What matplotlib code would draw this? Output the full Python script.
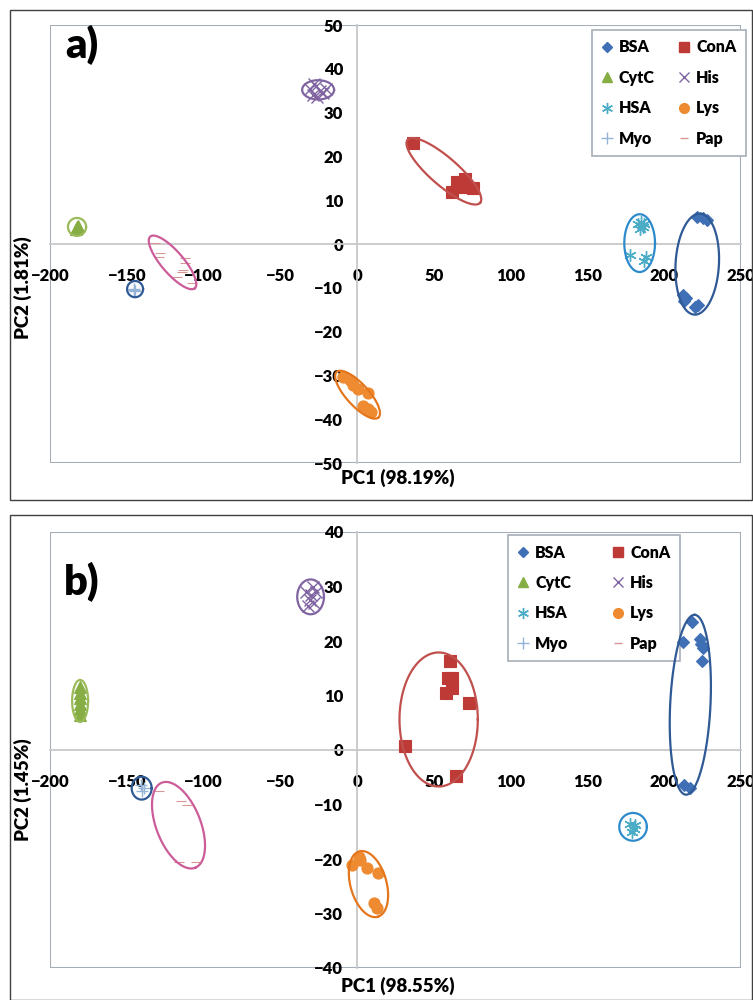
import numpy as np
import matplotlib
matplotlib.use("Agg")
import matplotlib.pyplot as plt
from matplotlib.lines import Line2D
from matplotlib.patches import Rectangle

plt.rcParams['font.family'] = ['Lato', 'DejaVu Sans']
plt.rcParams['font.weight'] = 'bold'

W, H = 753, 1000

# ---------------- data : panel a ----------------
a_bsa_x = [221.5, 228.0, 225.0, 212.0, 214.0, 220.0, 222.0, 213.0]
a_bsa_y = [6.2, 5.5, 6.0, -11.6, -12.3, -14.4, -13.9, -13.0]
a_cona_x = [36.5, 62.0, 65.0, 70.0, 69.0, 75.6]
a_cona_y = [23.0, 11.9, 14.2, 14.8, 13.0, 12.8]
a_cytc_x = [-183.0, -182.0, -182.5]
a_cytc_y = [3.5, 4.2, 3.8]
a_his_x = [-31.0, -29.0, -27.0, -26.0, -24.0, -22.0, -20.0, -28.0]
a_his_y = [35.5, 34.0, 36.0, 33.5, 35.0, 34.5, 35.5, 36.5]
a_hsa_x = [183.0, 185.0, 186.0, 184.0, 187.0, 178.0, 187.0, 188.0]
a_hsa_y = [4.5, 5.0, 3.8, 3.5, 4.6, -2.6, -3.8, -2.9]
a_lys_x = [-9.1, -4.6, -2.6, 0.7, 7.2, 3.9, 7.2, 9.1]
a_lys_y = [-30.4, -31.1, -32.2, -33.1, -34.0, -37.0, -37.7, -38.4]
a_myo_x = [-145.5, -144.5, -145.0]
a_myo_y = [-10.2, -10.8, -10.5]
a_pap_x = [-131.6, -128.3, -128.9, -112.0, -112.0, -113.4, -117.3, -107.5, -114.0]
a_pap_y = [0.2, -2.1, -3.0, -3.2, -4.3, -5.9, -7.5, -8.9, -6.4]

# ---------------- data : panel b ----------------
b_bsa_x = [218.1, 212.2, 223.1, 223.7, 225.3, 224.8, 213.0, 216.5]
b_bsa_y = [23.5, 19.8, 20.3, 19.4, 18.7, 16.4, -6.5, -7.0]
b_cona_x = [31.4, 60.8, 59.3, 61.9, 61.9, 58.0, 72.7, 64.7]
b_cona_y = [0.7, 16.3, 13.3, 13.3, 11.4, 10.4, 8.7, -4.8]
b_cytc_x = [-180.5, -180.5, -180.5, -180.5, -180.5, -180.5]
b_cytc_y = [6.5, 7.5, 8.5, 9.5, 10.5, 11.5]
b_his_x = [-33.0, -31.0, -29.0, -28.0, -30.0, -27.0, -32.0]
b_his_y = [29.0, 27.5, 30.0, 27.0, 28.5, 29.0, 26.5]
b_hsa_x = [178.0, 180.0, 181.0, 179.0]
b_hsa_y = [-13.5, -14.5, -13.8, -15.0]
b_lys_x = [-3.5, 2.0, 1.5, 6.7, 13.9, 10.7, 12.9]
b_lys_y = [-21.1, -20.2, -19.6, -21.7, -22.6, -28.1, -29.0]
b_myo_x = [-141.0, -140.0, -139.0]
b_myo_y = [-6.5, -7.5, -7.0]
b_pap_x = [-128.8, -114.6, -110.9, -115.7, -104.8]
b_pap_y = [-7.6, -9.3, -10.1, -20.5, -20.5]

# cluster ellipses: centre, semi-axis vector u, semi-axis vector v (data units)
a_ellipses = [
    ('bsa', 221.5, -4.6, 2.5, 11.5, 14.0, -0.8),
    ('hsa', 184.0, 0.2, 10.0, 0.0, 0.0, 6.6),
    ('cona', 56.5, 16.6, 23.6, -7.2, 6.0, 2.4),
    ('his', -25.4, 35.2, 10.4, 0.0, 0.0, 2.2),
    ('cytc', -182.4, 3.9, 5.9, 0.0, 0.0, 2.05),
    ('myo', -144.6, -10.3, 5.2, 0.0, 0.0, 1.85),
    ('pap', -120.2, -4.2, 14.5, -5.9, 5.4, 1.65),
    ('lys', 0.3, -34.4, 13.6, -5.2, 5.3, 1.7),
]
b_ellipses = [
    ('bsa', 217.0, 8.3, 2.9, 16.5, 13.1, -0.2),
    ('hsa', 179.7, -14.1, 9.0, 0.0, 0.0, 2.55),
    ('cona', 53.1, 5.6, 25.5, 0.0, 0.0, 12.3),
    ('his', -30.3, 28.1, 8.7, 0.0, 0.0, 3.2),
    ('cytc', -180.4, 9.0, 5.2, 0.0, 0.0, 3.85),
    ('myo', -140.3, -7.0, 6.5, 0.0, 0.0, 2.1),
    ('pap', -116.3, -13.8, 10.9, -7.8, 13.4, 1.5),
    ('lys', 7.4, -24.6, 6.0, -6.0, 11.3, 0.9),
]

names = ['BSA', 'ConA', 'CytC', 'His', 'HSA', 'Lys', 'Myo', 'Pap']
keys = ['bsa', 'cona', 'cytc', 'his', 'hsa', 'lys', 'myo', 'pap']
colors = {'bsa': '#3F6FB5', 'cona': '#BE3A36', 'cytc': '#86AE45', 'his': '#8064A2',
          'hsa': '#4BACC6', 'lys': '#EE8A2F', 'myo': '#95B3D7', 'pap': '#D99694'}
markers = {'bsa': 'D', 'cona': 's', 'cytc': '^', 'his': 'x', 'hsa': (6, 2, 0),
           'lys': 'o', 'myo': '+', 'pap': '_'}
msizes = {'bsa': 6, 'cona': 8, 'cytc': 8, 'his': 8, 'hsa': 9, 'lys': 8, 'myo': 9, 'pap': 7}
ell_colors = {'bsa': '#2F5A96', 'cona': '#C0504D', 'cytc': '#9BBB59', 'his': '#8064A2',
              'hsa': '#2E8BCB', 'lys': '#E4771E', 'myo': '#2F5A96', 'pap': '#CC5C99'}


def fx(px):
    return px / W


def fy(py):
    return 1 - py / H


fig = plt.figure(figsize=(7.53, 10), dpi=100)

# outer borders of the two panels
fig.patches.append(Rectangle((fx(10), fy(500)), fx(742), 490 / H, transform=fig.transFigure,
                             fill=False, edgecolor='#404040', linewidth=1.0))
fig.patches.append(Rectangle((fx(10), fy(1000)), fx(742), 485 / H, transform=fig.transFigure,
                             fill=False, edgecolor='#404040', linewidth=1.0))

panels = [
    dict(top=25, bottom=463, ylim=(-50, 50), label='a)', lab_y=45,
         pc1='PC1 (98.19%)', pc1_y=478, pc2='PC2 (1.81%)', pc2_y=288,
         leg=(0.784, 0.989), colsp=1.5, ell=a_ellipses,
         data={'bsa': (a_bsa_x, a_bsa_y), 'cona': (a_cona_x, a_cona_y),
               'cytc': (a_cytc_x, a_cytc_y), 'his': (a_his_x, a_his_y),
               'hsa': (a_hsa_x, a_hsa_y), 'lys': (a_lys_x, a_lys_y),
               'myo': (a_myo_x, a_myo_y), 'pap': (a_pap_x, a_pap_y)}),
    dict(top=532, bottom=968, ylim=(-40, 40), label='b)', lab_y=582,
         pc1='PC1 (98.55%)', pc1_y=986, pc2='PC2 (1.45%)', pc2_y=790,
         leg=(0.663, 0.993), colsp=2.6, ell=b_ellipses,
         data={'bsa': (b_bsa_x, b_bsa_y), 'cona': (b_cona_x, b_cona_y),
               'cytc': (b_cytc_x, b_cytc_y), 'his': (b_his_x, b_his_y),
               'hsa': (b_hsa_x, b_hsa_y), 'lys': (b_lys_x, b_lys_y),
               'myo': (b_myo_x, b_myo_y), 'pap': (b_pap_x, b_pap_y)}),
]

left, right = 50, 741
for p in panels:
    ax = fig.add_axes([fx(left), fy(p['bottom']), (right - left) / W, (p['bottom'] - p['top']) / H])
    ax.set_xlim(-200, 250)
    ax.set_ylim(*p['ylim'])
    ax.set_xticks(np.arange(-200, 251, 50))
    ax.set_yticks(np.arange(p['ylim'][0], p['ylim'][1] + 1, 10))

    # Excel style: axes cross at zero
    ax.spines['left'].set_position('zero')
    ax.spines['bottom'].set_position('zero')
    for s in ['left', 'bottom']:
        ax.spines[s].set_color('#C8C8C8')
        ax.spines[s].set_linewidth(1.3)
    for s in ['top', 'right']:
        ax.spines[s].set_visible(False)
    ax.add_patch(Rectangle((0, 0), 1, 1, transform=ax.transAxes, fill=False,
                           edgecolor='#A5AEB8', linewidth=1.5, zorder=0.5))
    ax.tick_params(axis='x', length=0, pad=17, labelsize=12)
    ax.tick_params(axis='y', length=0, pad=10, labelsize=12)
    for lab in ax.get_xticklabels() + ax.get_yticklabels():
        lab.set_fontweight('heavy')
    ax.set_facecolor('white')

    for k in keys:
        xs, ys = p['data'][k]
        ax.plot(xs, ys, linestyle='none', marker=markers[k], markersize=msizes[k],
                color=colors[k], markeredgewidth=1.0 if k in ('his', 'hsa', 'myo') else 0.8,
                zorder=3)

    t = np.linspace(0, 2 * np.pi, 200)
    for k, cx, cy, ux, uy, vx, vy in p['ell']:
        ax.plot(cx + ux * np.cos(t) + vx * np.sin(t), cy + uy * np.cos(t) + vy * np.sin(t),
                color=ell_colors[k], linewidth=1.6, zorder=4)

    order = ['bsa', 'cytc', 'hsa', 'myo', 'cona', 'his', 'lys', 'pap']
    handles = [Line2D([], [], linestyle='none', marker=markers[k], markersize=msizes[k] - 1,
                      color=colors[k], markeredgewidth=1.0) for k in order]
    labels = [names[keys.index(k)] for k in order]
    leg = ax.legend(handles, labels, ncol=2, loc='upper left', bbox_to_anchor=p['leg'],
                    borderaxespad=0, frameon=True, fancybox=False, edgecolor='#A5AEB8',
                    framealpha=1, handlelength=0.7, handletextpad=0.4, columnspacing=p['colsp'],
                    labelspacing=0.9, borderpad=0.6, prop={'weight': 'heavy', 'size': 11.5})
    leg.get_frame().set_linewidth(1.2)
    leg.set_zorder(2)

    fig.text(fx(82), fy(p['lab_y']), p['label'], fontsize=30, fontweight='heavy',
             ha='center', va='center')
    fig.text(fx(398), fy(p['pc1_y']), p['pc1'], fontsize=13.5, fontweight='heavy',
             ha='center', va='center')
    fig.text(fx(23), fy(p['pc2_y']), p['pc2'], fontsize=13.5, fontweight='heavy',
             ha='center', va='center', rotation=90)

fig.savefig('out.png', dpi=100, facecolor='white')
